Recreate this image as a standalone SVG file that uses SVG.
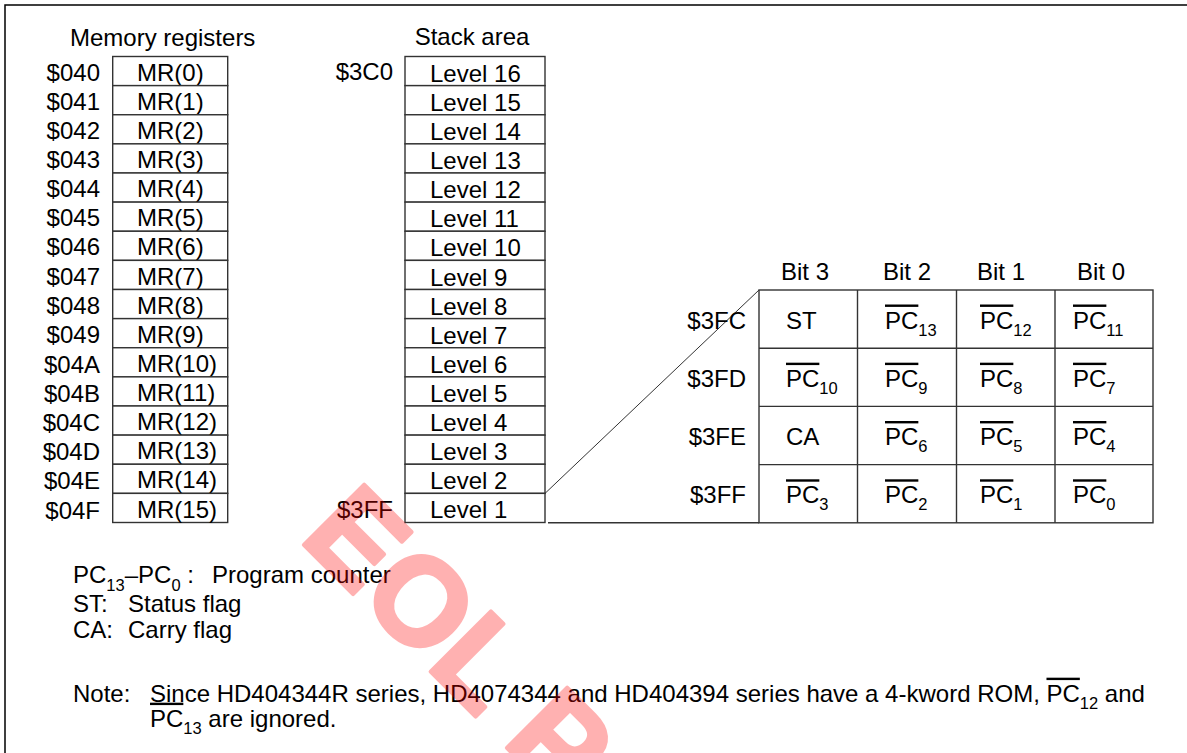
<svg xmlns="http://www.w3.org/2000/svg" width="1187" height="753" viewBox="0 0 1187 753">
<style>
text{font-family:"Liberation Sans",Arial,sans-serif;font-size:24px;fill:#000}
.r{text-anchor:end}
.m{text-anchor:middle}
.s{font-size:16.5px}
.ov{text-decoration:overline}
.cell{fill:#fff;stroke:#333;stroke-width:1.4}
.ln{stroke:#333;stroke-width:1.4;fill:none}
.thin{stroke:#333;stroke-width:1;fill:none}
.wm{font-family:"Liberation Sans",Arial,sans-serif;font-weight:bold;font-size:124px;fill:#ff0000;stroke:#ff0000;stroke-width:4;stroke-linejoin:round}
</style>
<rect x="0" y="0" width="1187" height="753" fill="#fff"/>
<rect x="5" y="5" width="1200" height="760" fill="none" stroke="#000" stroke-width="1.5"/>

<g id="memory-registers">
<text x="70" y="46">Memory registers</text>
<g id="mr0"><rect class="cell" x="112.7" y="56.5" width="115" height="29.125"/><text class="r" x="100" y="80.6">$040</text><text x="137" y="80.6">MR(0)</text></g>
<g id="mr1"><rect class="cell" x="112.7" y="85.625" width="115" height="29.125"/><text class="r" x="100" y="109.8">$041</text><text x="137" y="109.8">MR(1)</text></g>
<g id="mr2"><rect class="cell" x="112.7" y="114.75" width="115" height="29.125"/><text class="r" x="100" y="138.9">$042</text><text x="137" y="138.9">MR(2)</text></g>
<g id="mr3"><rect class="cell" x="112.7" y="143.875" width="115" height="29.125"/><text class="r" x="100" y="168">$043</text><text x="137" y="168">MR(3)</text></g>
<g id="mr4"><rect class="cell" x="112.7" y="173" width="115" height="29.125"/><text class="r" x="100" y="197.1">$044</text><text x="137" y="197.1">MR(4)</text></g>
<g id="mr5"><rect class="cell" x="112.7" y="202.125" width="115" height="29.125"/><text class="r" x="100" y="226.3">$045</text><text x="137" y="226.3">MR(5)</text></g>
<g id="mr6"><rect class="cell" x="112.7" y="231.25" width="115" height="29.125"/><text class="r" x="100" y="255.4">$046</text><text x="137" y="255.4">MR(6)</text></g>
<g id="mr7"><rect class="cell" x="112.7" y="260.375" width="115" height="29.125"/><text class="r" x="100" y="284.5">$047</text><text x="137" y="284.5">MR(7)</text></g>
<g id="mr8"><rect class="cell" x="112.7" y="289.5" width="115" height="29.125"/><text class="r" x="100" y="313.6">$048</text><text x="137" y="313.6">MR(8)</text></g>
<g id="mr9"><rect class="cell" x="112.7" y="318.625" width="115" height="29.125"/><text class="r" x="100" y="342.8">$049</text><text x="137" y="342.8">MR(9)</text></g>
<g id="mr10"><rect class="cell" x="112.7" y="347.75" width="115" height="29.125"/><text class="r" x="100" y="372.9">$04A</text><text x="137" y="371.9">MR(10)</text></g>
<g id="mr11"><rect class="cell" x="112.7" y="376.875" width="115" height="29.125"/><text class="r" x="100" y="402">$04B</text><text x="137" y="401">MR(11)</text></g>
<g id="mr12"><rect class="cell" x="112.7" y="406" width="115" height="29.125"/><text class="r" x="100" y="431.1">$04C</text><text x="137" y="430.1">MR(12)</text></g>
<g id="mr13"><rect class="cell" x="112.7" y="435.125" width="115" height="29.125"/><text class="r" x="100" y="460.3">$04D</text><text x="137" y="459.3">MR(13)</text></g>
<g id="mr14"><rect class="cell" x="112.7" y="464.25" width="115" height="29.125"/><text class="r" x="100" y="489.4">$04E</text><text x="137" y="488.4">MR(14)</text></g>
<g id="mr15"><rect class="cell" x="112.7" y="493.375" width="115" height="29.125"/><text class="r" x="100" y="518.5">$04F</text><text x="137" y="517.5">MR(15)</text></g>
</g>

<g id="stack-area">
<text class="m" x="472" y="45">Stack area</text>
<text class="r" x="393" y="80">$3C0</text>
<text class="r" x="393" y="518">$3FF</text>
<g id="lv16"><rect class="cell" x="405" y="56.5" width="140" height="29.125"/><text x="430" y="81.6">Level 16</text></g>
<g id="lv15"><rect class="cell" x="405" y="85.625" width="140" height="29.125"/><text x="430" y="110.8">Level 15</text></g>
<g id="lv14"><rect class="cell" x="405" y="114.75" width="140" height="29.125"/><text x="430" y="139.9">Level 14</text></g>
<g id="lv13"><rect class="cell" x="405" y="143.875" width="140" height="29.125"/><text x="430" y="169">Level 13</text></g>
<g id="lv12"><rect class="cell" x="405" y="173" width="140" height="29.125"/><text x="430" y="198.1">Level 12</text></g>
<g id="lv11"><rect class="cell" x="405" y="202.125" width="140" height="29.125"/><text x="430" y="227.3">Level 11</text></g>
<g id="lv10"><rect class="cell" x="405" y="231.25" width="140" height="29.125"/><text x="430" y="256.4">Level 10</text></g>
<g id="lv9"><rect class="cell" x="405" y="260.375" width="140" height="29.125"/><text x="430" y="285.5">Level 9</text></g>
<g id="lv8"><rect class="cell" x="405" y="289.5" width="140" height="29.125"/><text x="430" y="314.6">Level 8</text></g>
<g id="lv7"><rect class="cell" x="405" y="318.625" width="140" height="29.125"/><text x="430" y="343.8">Level 7</text></g>
<g id="lv6"><rect class="cell" x="405" y="347.75" width="140" height="29.125"/><text x="430" y="372.9">Level 6</text></g>
<g id="lv5"><rect class="cell" x="405" y="376.875" width="140" height="29.125"/><text x="430" y="402">Level 5</text></g>
<g id="lv4"><rect class="cell" x="405" y="406" width="140" height="29.125"/><text x="430" y="431.1">Level 4</text></g>
<g id="lv3"><rect class="cell" x="405" y="435.125" width="140" height="29.125"/><text x="430" y="460.3">Level 3</text></g>
<g id="lv2"><rect class="cell" x="405" y="464.25" width="140" height="29.125"/><text x="430" y="489.4">Level 2</text></g>
<g id="lv1"><rect class="cell" x="405" y="493.375" width="140" height="29.125"/><text x="430" y="517.5">Level 1</text></g>
</g>

<g id="connectors">
<line class="thin" x1="545" y1="493.4" x2="759" y2="290"/>
<line class="ln" x1="548" y1="522.8" x2="759" y2="522.8"/>
</g>

<g id="bit-table">
<text class="m" x="805" y="280">Bit 3</text>
<text class="m" x="907" y="280">Bit 2</text>
<text class="m" x="1001" y="280">Bit 1</text>
<text class="m" x="1101" y="280">Bit 0</text>
<text class="r" x="746" y="328.5">$3FC</text>
<text class="r" x="746" y="386.7">$3FD</text>
<text class="r" x="746" y="445">$3FE</text>
<text class="r" x="746" y="503.3">$3FF</text>
<rect class="ln" x="759" y="290" width="394" height="232.8"/>
<line class="ln" x1="857.5" y1="290" x2="857.5" y2="522.8"/>
<line class="ln" x1="956.5" y1="290" x2="956.5" y2="522.8"/>
<line class="ln" x1="1055" y1="290" x2="1055" y2="522.8"/>
<line class="ln" x1="759" y1="348.2" x2="1153" y2="348.2"/>
<line class="ln" x1="759" y1="406.4" x2="1153" y2="406.4"/>
<line class="ln" x1="759" y1="464.6" x2="1153" y2="464.6"/>
<g id="row-3fc">
<text x="786" y="328.5">ST</text>
<text x="885" y="328.5"><tspan class="ov">PC</tspan><tspan class="s" dy="7">13</tspan></text>
<text x="980" y="328.5"><tspan class="ov">PC</tspan><tspan class="s" dy="7">12</tspan></text>
<text x="1073" y="328.5"><tspan class="ov">PC</tspan><tspan class="s" dy="7">11</tspan></text>
</g>
<g id="row-3fd">
<text x="786" y="386.7"><tspan class="ov">PC</tspan><tspan class="s" dy="7">10</tspan></text>
<text x="885" y="386.7"><tspan class="ov">PC</tspan><tspan class="s" dy="7">9</tspan></text>
<text x="980" y="386.7"><tspan class="ov">PC</tspan><tspan class="s" dy="7">8</tspan></text>
<text x="1073" y="386.7"><tspan class="ov">PC</tspan><tspan class="s" dy="7">7</tspan></text>
</g>
<g id="row-3fe">
<text x="786" y="445">CA</text>
<text x="885" y="445"><tspan class="ov">PC</tspan><tspan class="s" dy="7">6</tspan></text>
<text x="980" y="445"><tspan class="ov">PC</tspan><tspan class="s" dy="7">5</tspan></text>
<text x="1073" y="445"><tspan class="ov">PC</tspan><tspan class="s" dy="7">4</tspan></text>
</g>
<g id="row-3ff">
<text x="786" y="503.3"><tspan class="ov">PC</tspan><tspan class="s" dy="7">3</tspan></text>
<text x="885" y="503.3"><tspan class="ov">PC</tspan><tspan class="s" dy="7">2</tspan></text>
<text x="980" y="503.3"><tspan class="ov">PC</tspan><tspan class="s" dy="7">1</tspan></text>
<text x="1073" y="503.3"><tspan class="ov">PC</tspan><tspan class="s" dy="7">0</tspan></text>
</g>
</g>

<g id="legend">
<text x="73" y="583">PC<tspan class="s" dy="7.5">13</tspan><tspan dy="-7.5">–PC</tspan><tspan class="s" dy="7.5">0</tspan><tspan dy="-7.5"> :</tspan></text>
<text x="212" y="583">Program counter</text>
<text x="73" y="611.5">ST:</text>
<text x="128" y="611.5">Status flag</text>
<text x="73" y="638.3">CA:</text>
<text x="128" y="638.3">Carry flag</text>
</g>

<g id="note">
<text x="73" y="701.7">Note:</text>
<text x="150" y="701.7">Since HD404344R series, HD4074344 and HD404394 series have a 4-kword ROM, <tspan class="ov">PC</tspan><tspan class="s" dy="7">12</tspan><tspan dy="-7"> and</tspan></text>
<text x="150" y="726.7"><tspan class="ov">PC</tspan><tspan class="s" dy="7">13</tspan><tspan dy="-7"> are ignored.</tspan></text>
</g>

<g id="watermark" opacity="0.3">
<text class="wm" transform="translate(298 539) rotate(45)">EOL P</text>
</g>
</svg>
